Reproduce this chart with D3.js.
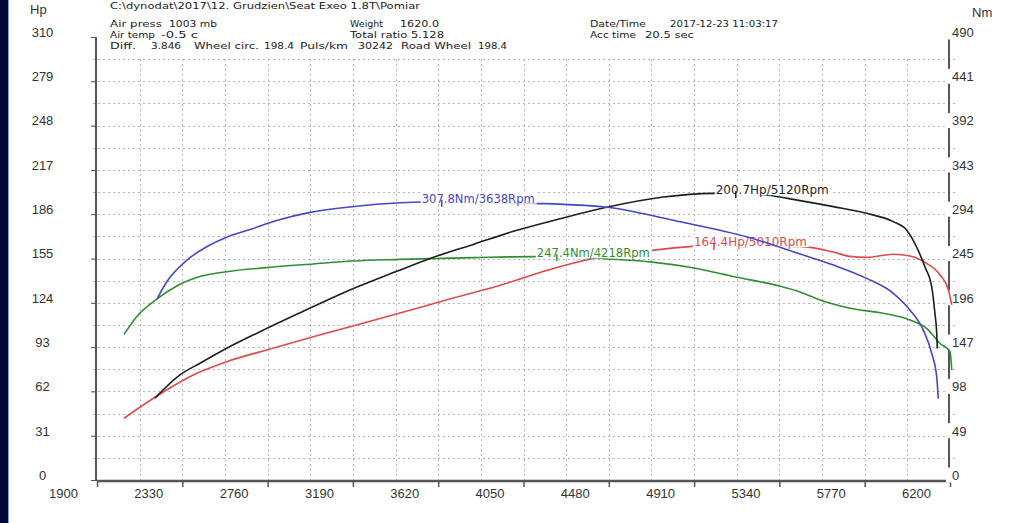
<!DOCTYPE html>
<html><head><meta charset="utf-8">
<script src="https://cdn.jsdelivr.net/npm/d3@7"></script>
<style>html,body{margin:0;padding:0;background:#fff;overflow:hidden}svg{display:block}</style>
</head><body>
<svg id="c" width="1024" height="523"></svg>
<script>
// ---------------- DATA ----------------
const rpmTicks = [1900, 2330, 2760, 3190, 3620, 4050, 4480, 4910, 5340, 5770, 6200];
const hpTicks = [0, 31, 62, 93, 124, 155, 186, 217, 248, 279, 310];
const nmTicks = [0, 49, 98, 147, 196, 245, 294, 343, 392, 441, 490];

// Black: engine power (Hp)
const blackRpm = [2192, 2318, 2419, 2554, 2722, 2923, 3175, 3411, 3579, 3800, 3999, 4240, 4469, 4755, 5007, 5120, 5276, 5444, 5612, 5780, 5914, 5981, 6032, 6074, 6108, 6124, 6133, 6136];
const blackHp = [57.2, 73.5, 81.7, 92.2, 103.8, 117, 133, 146, 155, 165, 174, 183, 190.8, 198, 200.6, 200.7, 199.4, 195.5, 191.3, 186.6, 180.8, 175, 163, 149, 135, 116.6, 102.6, 92];

// Red: wheel power (Hp)
const redRpm = [2036, 2133, 2251, 2385, 2554, 2755, 2990, 3209, 3427, 3700, 3950, 4175, 4402, 4688, 4900, 5010, 5200, 5444, 5612, 5696, 5780, 5914, 5998, 6082, 6150, 6192, 6209];
const redHp = [43.2, 52.5, 63, 73.5, 82.8, 91, 100.3, 108.5, 116.8, 127.5, 137, 147, 155, 160.5, 163.5, 164.4, 164, 163.5, 159.5, 156.5, 155.8, 158, 156.8, 151.6, 143.5, 133, 122.5];

// Blue: engine torque (Nm)
const blueRpm = [2202, 2251, 2352, 2453, 2554, 2671, 2806, 2974, 3175, 3427, 3638, 3900, 4108, 4469, 4839, 5175, 5444, 5612, 5780, 5914, 5998, 6065, 6108, 6133, 6141];
const blueNm = [200, 219, 243, 258, 268.5, 277, 287, 296, 302, 306.7, 307.8, 307, 306, 301.7, 285.7, 269, 250, 237.8, 223, 206.5, 188, 166, 140, 114, 90];

// Green: wheel torque (Nm)
const greenRpm = [2036, 2100, 2201, 2302, 2419, 2554, 2755, 2990, 3192, 3427, 3800, 4218, 4480, 4700, 4910, 5120, 5340, 5444, 5545, 5696, 5864, 5998, 6082, 6150, 6200, 6209];
const greenNm = [161, 180.6, 200, 214.6, 225, 230.4, 234.9, 239, 242.3, 244, 246, 247.4, 244.5, 241, 234.5, 224.5, 214.6, 208, 199, 190, 184.4, 177, 167.8, 151, 142, 121.7];

// Peak annotations
const peakLabels = ["307.8Nm/3638Rpm", "200.7Hp/5120Rpm", "164.4Hp/5010Rpm", "247.4Nm/4218Rpm"];
const peakRpm = [3638, 5120, 5010, 4218];
const peakVal = [307.8, 200.7, 164.4, 247.4];

// Header texts
const headerTexts = ["C:\\dynodat\\2017\\12. Grudzien\\Seat Exeo 1.8T\\Pomiar",
  "Air press", "1003 mb", "Weight", "1620.0", "Date/Time", "2017-12-23 11:03:17",
  "Air temp", "-0.5 c", "Total ratio 5.128", "Acc time", "20.5 sec",
  "Diff.", "3.846", "Wheel circ.", "198.4", "Puls/km", "30242", "Road Wheel", "198.4"];
// ---------------- LAYOUT ----------------
const R0 = 9, R1 = 27, R2 = 38, R3 = 49;
const headerLayout = [[110, R0, 310],
  [110, R1, 52], [169, R1, 48], [350, R1, 33], [400, R1, 39], [590, R1, 56], [670, R1, 108],
  [110, R2, 45], [161, R2, 37], [350, R2, 94], [590, R2, 46], [645, R2, 49],
  [110, R3, 26], [151, R3, 30], [194, R3, 65], [264, R3, 30], [300, R3, 48], [358, R3, 35], [401, R3, 70], [478, R3, 29]];

const svg = d3.select("#c");
const X0 = 97, X1 = 950, YB = 480, YT = 37;
const x = d3.scaleLinear().domain([1900, 6200]).range([X0, X1]);
const yHp = d3.scaleLinear().domain([0, 310]).range([YB, YT]);
const yNm = d3.scaleLinear().domain([0, 490]).range([YB, YT]);

svg.append("rect").attr("width", 1024).attr("height", 523).attr("fill", "#fff");
// window frame strip at left
svg.append("rect").attr("x", 0).attr("y", 0).attr("width", 8).attr("height", 523).attr("fill", "#03063a");
svg.append("line").attr("x1", 8.5).attr("x2", 8.5).attr("y1", 0).attr("y2", 523).attr("stroke", "#7f9fe8").attr("stroke-width", 1);

const axisFont = "'Liberation Sans', Arial, sans-serif";
const textFont = "'DejaVu Sans', Verdana, sans-serif";

// Grid
const grid = svg.append("g").attr("stroke", "#b4b4b4").attr("stroke-width", 1).attr("stroke-dasharray", "2,3");
const vGrid = d3.range(1, 20).map(k => 1900 + 215 * k);
grid.selectAll("line.v").data(vGrid).join("line")
  .attr("x1", d => Math.round(x(d)) + 0.5).attr("x2", d => Math.round(x(d)) + 0.5)
  .attr("y1", yHp(15.5 * 19)).attr("y2", YB);
const hGrid = d3.range(1, 20).map(k => 15.5 * k);
grid.selectAll("line.h").data(hGrid).join("line")
  .attr("x1", 93).attr("x2", 955)
  .attr("y1", d => Math.round(yHp(d)) + 0.5).attr("y2", d => Math.round(yHp(d)) + 0.5);

// Axes
const axCol = "#555";
const gB = svg.append("g").attr("transform", `translate(0,${YB + 1})`)
  .call(d3.axisBottom(x).tickValues(rpmTicks).tickSize(6).tickFormat(d3.format("d")));
gB.select(".domain").attr("stroke", axCol).attr("stroke-width", 2.5).attr("d", `M${X0},0H${X1}`);
gB.selectAll(".tick line").attr("stroke", axCol).attr("stroke-width", 1.5);
gB.selectAll(".tick text").attr("fill", "#333").attr("font-family", axisFont).attr("font-size", 13)
  .attr("dx", -34).attr("y", 8);

const gL = svg.append("g").attr("transform", `translate(${X0 - 1},0)`)
  .call(d3.axisLeft(yHp).tickValues(hpTicks).tickSize(5).tickFormat(d3.format("d")));
gL.select(".domain").attr("stroke", axCol).attr("stroke-width", 2).attr("d", `M0,${YT}V${YB + 1}`);
gL.selectAll(".tick line").attr("stroke", axCol);
gL.selectAll(".tick text").attr("fill", "#333").attr("font-family", axisFont).attr("font-size", 13)
  .attr("text-anchor", "middle").attr("x", 42.5 - (X0 - 1)).attr("dy", "-0.05em");

const gR = svg.append("g").attr("transform", `translate(${X1 - 1},0)`)
  .call(d3.axisRight(yNm).tickValues(nmTicks).tickSize(0).tickFormat(d3.format("d")));
gR.select(".domain").attr("stroke", axCol).attr("stroke-width", 2).attr("d", `M0,${YT}V${YB + 1}`);
gR.selectAll(".tick").insert("rect", "text").attr("x", -3).attr("y", -13).attr("width", 24).attr("height", 15).attr("fill", "#fff");
gR.selectAll(".tick text").attr("fill", "#333").attr("font-family", axisFont).attr("font-size", 13)
  .attr("x", 3).attr("dy", "-0.05em");

svg.append("text").attr("x", 30).attr("y", 14).attr("font-family", axisFont).attr("font-size", 13).attr("fill", "#333").text("Hp");
svg.append("text").attr("x", 972).attr("y", 17).attr("font-family", axisFont).attr("font-size", 13).attr("fill", "#333").text("Nm");

// Header
svg.append("g").selectAll("text").data(headerTexts).join("text")
  .attr("x", (d, i) => headerLayout[i][0]).attr("y", (d, i) => headerLayout[i][1])
  .attr("textLength", (d, i) => headerLayout[i][2]).attr("lengthAdjust", "spacingAndGlyphs")
  .attr("font-family", textFont).attr("font-size", 9.4).attr("fill", "#222").text(d => d);

// Curves
const plot = svg.append("g");
function curve(rpm, vals, ys, color) {
  const pts = rpm.map((r, i) => [x(r), ys(vals[i])]);
  plot.append("path").attr("d", d3.line().curve(d3.curveMonotoneX)(pts))
    .attr("fill", "none").attr("stroke", color).attr("stroke-width", 1.6).attr("stroke-linejoin", "round");
}
function label(i, ys, color) {
  const px = x(peakRpm[i]), py = ys(peakVal[i]);
  const g = plot.append("g");
  g.append("rect").attr("x", px - 21).attr("y", py - 10).attr("width", 116).attr("height", 12).attr("fill", "#fff");
  g.append("text").attr("x", px - 20).attr("y", py + 1).attr("textLength", 113).attr("lengthAdjust", "spacingAndGlyphs")
    .attr("font-family", textFont).attr("font-size", 11.5).attr("fill", color).text(peakLabels[i]);
  g.append("line").attr("x1", px).attr("x2", px).attr("y1", py - 2).attr("y2", py + 5)
    .attr("stroke", color).attr("stroke-width", 1.5);
}
const cBlack = "#1e1e1e", cRed = "#e04a4a", cBlue = "#4646c8", cGreen = "#2f8f34";
curve(redRpm, redHp, yHp, cRed);
curve(greenRpm, greenNm, yNm, cGreen);
curve(blackRpm, blackHp, yHp, cBlack);
label(3, yNm, cGreen);
label(2, yHp, cRed);
curve(blueRpm, blueNm, yNm, cBlue);
label(0, yNm, cBlue);
label(1, yHp, cBlack);
</script>
</body></html>
